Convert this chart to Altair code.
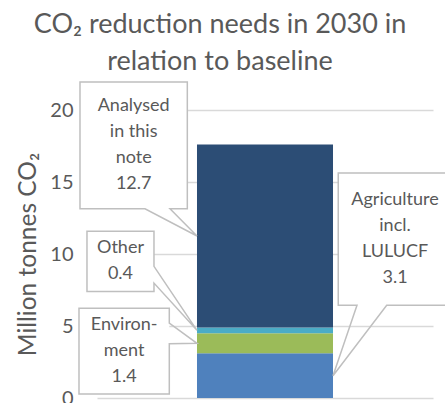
import altair as alt
import pandas as pd

# Stacked CO2 reduction needs in 2030 (Mt CO2), listed from the bottom of the bar upwards
period = "2030"
sectors = ["Agriculture incl. LULUCF", "Environment", "Other", "Analysed in this note"]
values = [3.1, 1.4, 0.4, 12.7]
callout_names = ["Agriculture\nincl.\nLULUCF", "Environ-\nment", "Other", "Analysed\nin this\nnote"]
colors = ["#4f81bd", "#9bbb59", "#4bacc6", "#2c4d75"]
y_ticks = [0, 5, 10, 15, 20]

# Styling / layout
FONT = "Lato"
TEXT_COLOR = "#595959"
GRID_COLOR = "#d9d9d9"
BOX_STROKE = "#bfbfbf"
BAR_PAD = 0.4237  # band padding (inner and outer) of the single bar
PLOT_W, PLOT_H = 336, 288
Y_MAX = 20
LABEL_LINE_H = 26

# Callout boxes: x span as a share of the plot width, y span in Mt,
# the box side the pointer leaves from, where the pointer base sits on that side,
# and which edge of the bar the pointer reaches.
callout_layout = {
    "Agriculture incl. LULUCF": dict(x=(0.718, 1.056), y=(6.44, 15.63), side="bottom", base=(0.7738, 0.8622), edge="right"),
    "Environment": dict(x=(-0.0536, 0.2152), y=(0.28, 6.24), side="right", base=(3.76, 5.20), edge="left"),
    "Other": dict(x=(-0.0298, 0.1696), y=(7.40, 11.58), side="right", base=(7.98, 9.14), edge="left"),
    "Analysed in this note": dict(x=(-0.0506, 0.2688), y=(13.14, 21.95), side="bottom", base=(0.1429, 0.2173), edge="left"),
}

# Bar edges in the same 0..1 plot-width units as the callouts
bar_left = BAR_PAD / (1 + BAR_PAD)
bar_right = 1 / (1 + BAR_PAD)
px_per_mt = PLOT_H / Y_MAX

bar_df = pd.DataFrame({
    "period": period,
    "sector": sectors,
    "value": values,
    "stack_pos": list(range(len(sectors))),
})

# Segment midpoints, where each callout pointer ends
mids = []
running = 0.0
for v in values:
    mids.append(running + v / 2)
    running += v

box_rows, outline_rows, text_rows = [], [], []
for sector, name, value, mid in zip(sectors, callout_names, values, mids):
    lay = callout_layout[sector]
    xl, xr = lay["x"]
    yb, yt = lay["y"]
    tip = (bar_left if lay["edge"] == "left" else bar_right, mid)
    b0, b1 = lay["base"]
    if lay["side"] == "bottom":
        pts = [(xl, yt), (xr, yt), (xr, yb), (b1, yb), tip, (b0, yb), (xl, yb)]
    else:
        pts = [(xl, yt), (xr, yt), (xr, b1), tip, (xr, b0), (xr, yb), (xl, yb)]
    for i, (px, py) in enumerate(pts):
        outline_rows.append({"sector": sector, "i": i, "px": px, "py": py})
    box_rows.append({"sector": sector, "x1": xl, "x2": xr, "y1": yb, "y2": yt})
    label = f"{name}\n{value}"
    n_lines = label.count("\n") + 1
    # first line sits above the box centre so the whole block is centred
    text_rows.append({
        "sector": sector,
        "label": label,
        "tx": (xl + xr) / 2,
        "ty": (yb + yt) / 2 + (n_lines - 1) * LABEL_LINE_H / 2 / px_per_mt,
    })

boxes_df = pd.DataFrame(box_rows)
outline_df = pd.DataFrame(outline_rows)
text_df = pd.DataFrame(text_rows)

y_scale = alt.Scale(domain=[0, Y_MAX], nice=False, zero=True)
frac_scale = alt.Scale(domain=[0, 1], nice=False, zero=False)

y_axis = alt.Axis(
    values=y_ticks,
    grid=True,
    gridColor=GRID_COLOR,
    gridWidth=1.5,
    domain=False,
    ticks=False,
    labelFont=FONT,
    labelFontSize=20,
    labelColor=TEXT_COLOR,
    labelPadding=24,
    title="Million tonnes CO₂",
    titleFont=FONT,
    titleFontSize=24.5,
    titleFontWeight="normal",
    titleColor=TEXT_COLOR,
    titlePadding=9,
)

bar = alt.Chart(bar_df).mark_bar().encode(
    x=alt.X("period:N", scale=alt.Scale(paddingInner=BAR_PAD, paddingOuter=BAR_PAD), axis=None),
    y=alt.Y("value:Q", stack="zero", scale=y_scale, axis=y_axis),
    color=alt.Color("sector:N", scale=alt.Scale(domain=sectors, range=colors), legend=None),
    order=alt.Order("stack_pos:Q"),
)

box_fill = alt.Chart(boxes_df).mark_rect(fill="white", strokeWidth=0).encode(
    x=alt.X("x1:Q", scale=frac_scale, axis=None),
    x2="x2:Q",
    y=alt.Y("y1:Q", scale=y_scale, axis=y_axis),
    y2="y2:Q",
)

outline = alt.Chart(outline_df).mark_line(
    interpolate="linear-closed", color=BOX_STROKE, strokeWidth=1.5
).encode(
    x=alt.X("px:Q", scale=frac_scale, axis=None),
    y=alt.Y("py:Q", scale=y_scale, axis=y_axis),
    detail="sector:N",
    order="i:Q",
)

labels = alt.Chart(text_df).mark_text(
    font=FONT, fontSize=18, color=TEXT_COLOR, lineBreak="\n", lineHeight=LABEL_LINE_H,
    align="center", baseline="middle",
).encode(
    x=alt.X("tx:Q", scale=frac_scale, axis=None),
    y=alt.Y("ty:Q", scale=y_scale, axis=y_axis),
    text="label:N",
)

chart = alt.layer(bar, box_fill, outline, labels).resolve_scale(
    x="independent"
).properties(
    width=PLOT_W,
    height=PLOT_H,
    autosize=alt.AutoSizeParams(type="none"),
    padding={"left": 97, "top": 110, "right": 12, "bottom": 5},
    title=alt.TitleParams(
        ["CO₂ reduction needs in 2030 in", "relation to baseline"],
        font=FONT, fontSize=27, fontWeight="normal", color=TEXT_COLOR,
        anchor="middle", frame="group", dx=-45, offset=3, lineHeight=37,
    ),
).configure_view(stroke=None)

chart.save("out.html", embed_options={"renderer": "svg", "actions": False})
